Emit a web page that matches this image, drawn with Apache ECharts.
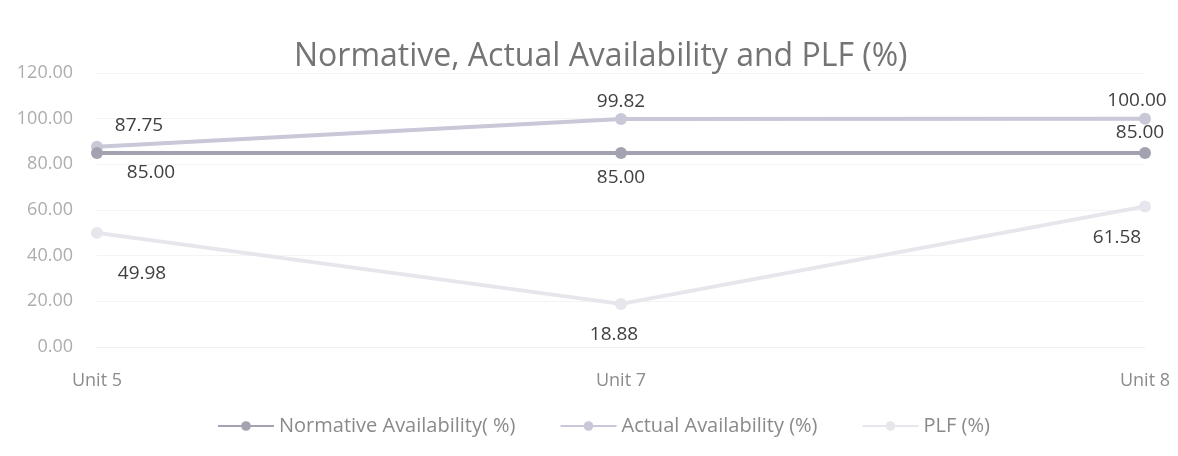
<!DOCTYPE html>
<html><head><meta charset="utf-8">
<script src="https://cdn.jsdelivr.net/npm/echarts@6/dist/echarts.min.js"></script>
<style>html,body{margin:0;padding:0;background:#fff}#c{width:1178px;height:456px}</style>
</head><body><div id="c"></div>
<script>
const categories = ['Unit 5', 'Unit 7', 'Unit 8'];
const normative = [85.00, 85.00, 85.00];
const actual = [87.75, 99.82, 100.00];
const plf = [49.98, 18.88, 61.58];
const seriesNames = ['Normative Availability( %)', 'Actual Availability (%)', 'PLF (%)'];
const yTicks = [0, 20, 40, 60, 80, 100, 120];

const F = '"Open Sans", Lato, sans-serif';
const labelBase = {show: true, color: '#404040', fontSize: 19, fontFamily: F, formatter: p => p.value.toFixed(2)};
function pts(vals, cfgs) {
  return vals.map((v, i) => ({value: v, label: Object.assign({}, labelBase, cfgs[i])}));
}
const chart = echarts.init(document.getElementById('c'), null, {renderer: 'canvas'});
chart.setOption({
  animation: false,
  backgroundColor: '#fff',
  title: {text: 'Normative, Actual Availability and PLF (%)', left: 289, top: 36,
    textStyle: {color: '#747474', fontSize: 32, fontWeight: 'normal', fontFamily: F}},
  grid: {left: 97, right: 33, top: 73, bottom: 109},
  legend: {top: 411, left: 212, itemWidth: 56, itemHeight: 12, itemGap: 44,
    textStyle: {color: '#8a8a8a', fontSize: 20, fontFamily: F}, data: seriesNames},
  xAxis: {type: 'category', data: categories, boundaryGap: false,
    axisLine: {lineStyle: {color: '#f0f0f0'}}, axisTick: {show: false},
    axisLabel: {color: '#8c8c8c', fontSize: 18, fontFamily: F, margin: 25}},
  yAxis: {type: 'value', min: yTicks[0], max: yTicks[yTicks.length - 1], interval: 20,
    axisLine: {show: false}, axisTick: {show: false},
    splitLine: {lineStyle: {color: '#f4f4f4'}},
    axisLabel: {color: '#adadad', fontSize: 18, fontFamily: F, margin: 24, formatter: v => v.toFixed(2)}},
  series: [
    {name: seriesNames[0], type: 'line', symbol: 'circle', symbolSize: 12,
      itemStyle: {color: '#a2a2b0'}, lineStyle: {width: 4, color: '#a2a2b0'}, z: 3,
      data: pts(normative, [
        {position: 'bottom', offset: [54, -1]},
        {position: 'bottom', offset: [0, 4]},
        {position: 'top', offset: [-5, 0]}])},
    {name: seriesNames[1], type: 'line', symbol: 'circle', symbolSize: 12,
      itemStyle: {color: '#c8c8d8'}, lineStyle: {width: 4, color: '#c8c8d8'}, z: 2,
      data: pts(actual, [
        {position: 'top', offset: [42, -1]},
        {position: 'top', offset: [0, 3]},
        {position: 'top', offset: [-8, 2]}])},
    {name: seriesNames[2], type: 'line', symbol: 'circle', symbolSize: 12,
      itemStyle: {color: '#e6e6ec'}, lineStyle: {width: 4, color: '#e6e6ec'}, z: 1,
      data: pts(plf, [
        {position: 'bottom', offset: [45, 20]},
        {position: 'bottom', offset: [-7, 10]},
        {position: 'bottom', offset: [-28, 11]}])}
  ]
});
</script></body></html>
